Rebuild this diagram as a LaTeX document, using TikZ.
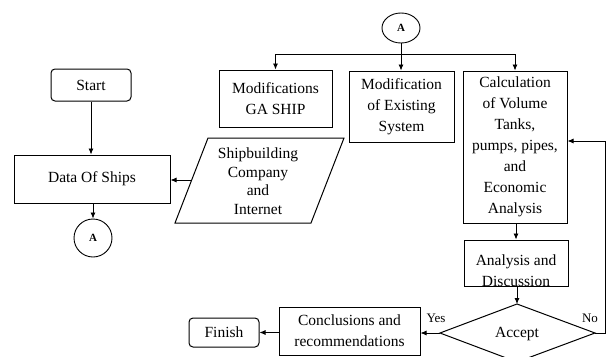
\documentclass[tikz,border=0pt]{standalone}
\usepackage{fontspec}
\setmainfont{Liberation Serif}
\usetikzlibrary{shapes.geometric,arrows.meta}
\begin{document}
\begin{tikzpicture}[x=1pt,y=-1pt,
  every node/.style={font=\fontsize{15.5}{21}\selectfont, align=center, inner sep=0pt},
  box/.style={draw, line width=1pt, rectangle},
  rbox/.style={draw, line width=1pt, rectangle, rounded corners=4pt},
  conn/.style={draw, circle, line width=0.9pt, minimum size=38pt, font=\fontsize{11}{13}\selectfont\bfseries},
  arr/.style={line width=0.8pt, -{Latex[length=6pt,width=5pt]}},
  ln/.style={line width=0.8pt}]
\useasboundingbox (0,0) rectangle (607,356);
\clip (0,0) rectangle (607,356);

% left column
\node[rbox, minimum width=80pt, minimum height=32pt] (start) at (91,85) {Start};
\node[box, minimum width=156pt, minimum height=48pt] (data) at (92,179) {Data Of Ships};
\node[conn] (abot) at (93,238) {A};

% parallelogram
\coordinate (p1) at (208,138);
\coordinate (p2) at (344,138);
\coordinate (p3) at (311,223);
\coordinate (p4) at (175,223);
\draw[line width=1pt] (p1) -- (p2) -- (p3) -- (p4) -- cycle;
\node[text depth=0pt] (para) at (258,181) {Shipbuilding\\[-2pt]Company\\[-3pt]and\\[-2pt]Internet};
\coordinate (pleft) at (191.7,180);

% top connector
\node[draw, ellipse, line width=0.9pt, minimum width=38pt, minimum height=30pt, font=\fontsize{11}{13}\selectfont\bfseries] (atop) at (401,28) {A};

% three boxes
\node[box, minimum width=113pt, minimum height=57pt] (mod1) at (275.5,98.5) {Modifications\\GA SHIP};
\node[box, minimum width=105pt, minimum height=71pt] (mod2) at (401.5,106.5) {Modification\\of Existing\\System};
\node[box, minimum width=104pt, minimum height=152pt] (calc) at (515,147) {Calculation\\of Volume\\Tanks,\\pumps, pipes,\\and\\Economic\\Analysis};

% analysis box (text clipped by its frame)
\node[box, minimum width=104pt, minimum height=46pt] (anal) at (516,263) {};
\begin{scope}
\clip (anal.north west) rectangle (anal.south east);
\node (analtxt) at (516,271) {Analysis and\\Discussion};
\end{scope}

% decision
\coordinate (dt) at (517,304);
\coordinate (dr) at (595,333);
\coordinate (db) at (517,362);
\coordinate (dl) at (440,333);
\draw[line width=1pt] (dt) -- (dr) -- (db) -- (dl) -- cycle;
\node (acc) at (517,334) {Accept};

% bottom row
\node[box, minimum width=141pt, minimum height=48pt] (concl) at (349.5,331) {Conclusions and\\recommendations};
\node[rbox, minimum width=70pt, minimum height=29pt] (finish) at (224,332.5) {Finish};

% connectors
\draw[arr] (start.south) -- (start.south |- data.north);
\draw[arr] (data.south -| abot) -- (abot.north);
\draw[arr] (pleft) -- (pleft -| data.east);

\coordinate (bus) at (401,54);
\draw[arr] (atop.south) -- (atop.south |- mod2.north);
\draw[ln] (bus -| mod1.north) -- (bus -| calc.north);
\draw[arr] (bus -| mod1.north) -- (mod1.north);
\draw[arr] (bus -| calc.north) -- (calc.north);

\draw[arr] (calc.south -| anal.north) -- (anal.north);
\draw[arr] (anal.south -| dt) -- (dt);
\draw[arr] (dl) -- (dl -| concl.east);
\draw[arr] (concl.west |- finish.east) -- (finish.east);
\coordinate (noc) at (605,141);
\draw[arr] (dr) -- (dr -| noc) -- (noc) -- (noc -| calc.east);

\node[font=\fontsize{13}{15}\selectfont] (yes) at (436,318) {Yes};
\node[font=\fontsize{13}{15}\selectfont] (no) at (590,318) {No};
\end{tikzpicture}
\end{document}
